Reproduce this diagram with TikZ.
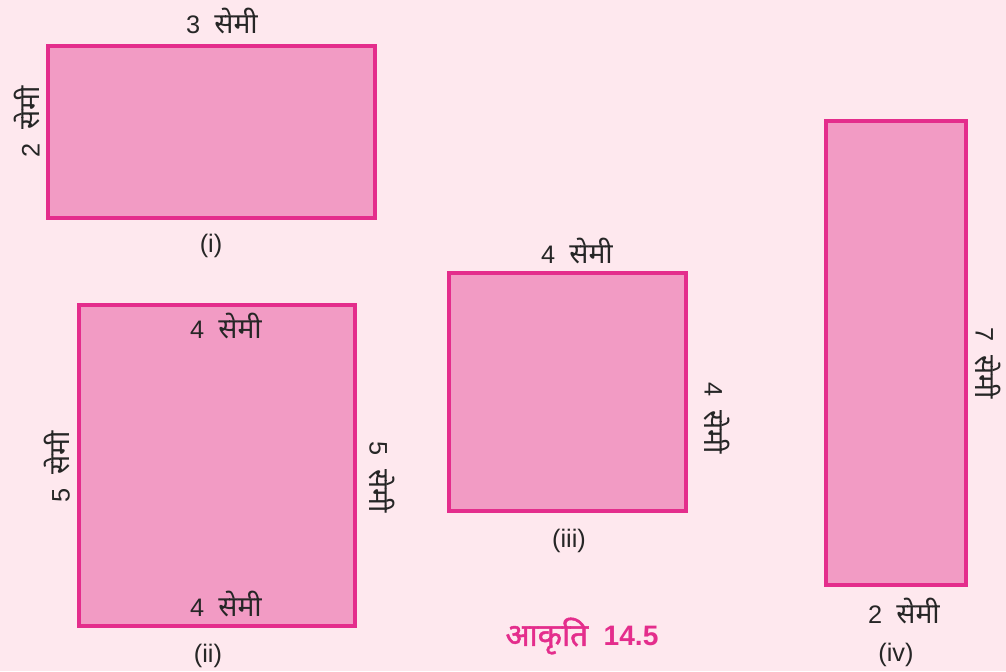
\documentclass[tikz,border=0pt]{standalone}
\usepackage{fontspec}
\setmainfont{Liberation Sans}
\newfontfamily\hindi[Script=Devanagari, Scale=1.12]{Noto Sans}
\newfontfamily\hindibold[Script=Devanagari, Scale=1.12, FakeBold=1.5]{Noto Sans}
\usepackage{tikz}
\definecolor{figbg}{RGB}{254,232,238}
\definecolor{figfill}{RGB}{242,155,196}
\definecolor{figline}{RGB}{228,45,140}
\newcommand{\semi}{{\hindi सेमी}}

\begin{document}
\begin{tikzpicture}[x=0.025cm, y=-0.025cm,
      shapebox/.style={draw=figline, fill=figfill, line width=3.2pt},
      dimlabel/.style={font=\fontsize{18}{20}\selectfont, text=black!85, inner sep=0pt},
      caplabel/.style={font=\fontsize{18}{20}\selectfont, text=black!85, inner sep=0pt}
    ]
      \fill[figbg] (0,0) rectangle (1006,671);
      \useasboundingbox (0,0) rectangle (1006,671);

      % Rectangle (i)
      \draw[shapebox] (48,46) rectangle (375,218);
      \node[dimlabel] (itop) at (222,21) {3\ \ \semi};
      \node[dimlabel, rotate=90] (ileft) at (27,122) {2\ \ \semi};
      \node[caplabel] (icap) at (211,246) {(i)};

      % Rectangle (ii)
      \draw[shapebox] (79,305) rectangle (355,626);
      \node[dimlabel] (iitop) at (226,326) {4\ \ \semi};
      \node[dimlabel] (iibot) at (226,604) {4\ \ \semi};
      \node[dimlabel, rotate=90] (iileft) at (57,467) {5\ \ \semi};
      \node[dimlabel, rotate=-90] (iiright) at (382,477) {5\ \ \semi};
      \node[caplabel] (iicap) at (208,656) {(ii)};

      % Rectangle (iii)
      \draw[shapebox] (449,273) rectangle (686,511);
      \node[dimlabel] (iiitop) at (577,251) {4\ \ \semi};
      \node[dimlabel, rotate=-90] (iiiright) at (717,418) {4\ \ \semi};
      \node[caplabel] (iiicap) at (569,541) {(iii)};

      % Rectangle (iv)
      \draw[shapebox] (826,121) rectangle (966,585);
      \node[dimlabel] (ivbot) at (904,611) {2\ \ \semi};
      \node[dimlabel, rotate=-90] (ivright) at (988,363) {7\ \ \semi};
      \node[caplabel] (ivcap) at (896,655) {(iv)};

      % Figure title
      \node[font=\fontsize{20}{22}\selectfont\bfseries, text=figline, inner sep=0pt] (title) at (582,636) {{\hindibold आकृति}\ \ 14.5};
    \end{tikzpicture}
\end{document}
